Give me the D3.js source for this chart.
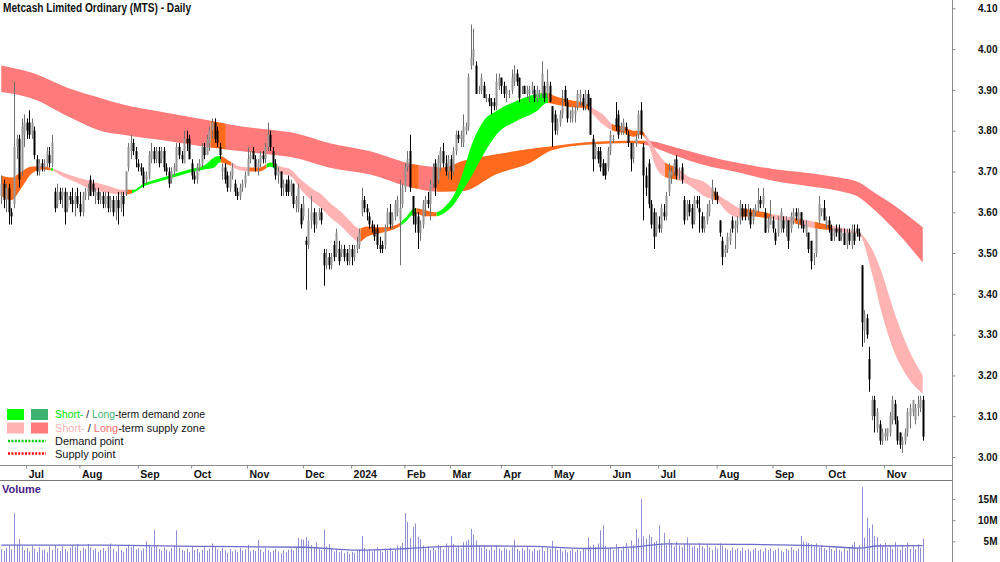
<!DOCTYPE html>
<html><head><meta charset="utf-8">
<script src="https://cdn.jsdelivr.net/npm/d3@7"></script>
<style>
body{margin:0;background:#fff}
svg{display:block}
text{font-family:"Liberation Sans",Arial,sans-serif}
</style>
</head><body>
<svg id="chart" width="1000" height="562"></svg>
<script>
// ---------------- DATA ----------------
const title = "Metcash Limited Ordinary (MTS) - Daily";
const firstDay = "2023-06-19", lastDay = "2024-11-22";
const closedDays = ["2023-12-25","2023-12-26","2024-01-01","2024-01-26","2024-02-26","2024-02-27","2024-02-28","2024-03-29","2024-04-01","2024-04-25","2024-06-10"];

const opens = [
3.64,3.67,3.63,3.66,3.60,3.62,3.76,3.78,3.70,3.79, 3.82,3.82,3.79,3.80,3.73,3.70,3.72,3.71,3.72,3.74,
3.72,3.65,3.62,3.65,3.64,3.65,3.61,3.64,3.63,3.62, 3.64,3.62,3.60,3.64,3.65,3.68,3.67,3.64,3.65,3.63,
3.64,3.62,3.64,3.61,3.63,3.60,3.63,3.61,3.64,3.65, 3.71,3.75,3.77,3.75,3.72,3.71,3.70,3.68,3.69,3.73,
3.75,3.73,3.75,3.73,3.75,3.71,3.70,3.68,3.70,3.70, 3.76,3.74,3.72,3.78,3.78,3.72,3.69,3.68,3.71,3.72,
3.76,3.74,3.77,3.80,3.82,3.80,3.76,3.70,3.71,3.69, 3.66,3.69,3.67,3.65,3.64,3.66,3.67,3.69,3.73,3.75,
3.73,3.71,3.72,3.74,3.73,3.76,3.79,3.75,3.72,3.69, 3.70,3.66,3.67,3.68,3.65,3.67,3.62,3.61,3.61,3.59,
3.53,3.52,3.58,3.60,3.57,3.59,3.60,3.50,3.47,3.49, 3.47,3.52,3.50,3.51,3.50,3.51,3.50,3.48,3.51,3.49,
3.51,3.52,3.60,3.63,3.61,3.59,3.57,3.56,3.56,3.52, 3.52,3.52,3.57,3.60,3.57,3.59,3.60,3.58,3.62,3.66,
3.71,3.75,3.64,3.60,3.59,3.55,3.57,3.62,3.63,3.62, 3.67,3.72,3.68,3.72,3.75,3.72,3.70,3.73,3.70,3.75,
3.79,3.78,3.77,3.80,3.81,3.96,3.98,3.96,3.90,3.90, 3.91,3.88,3.88,3.87,3.87,3.86,3.91,3.93,3.91,3.89,
3.89,3.90,3.92,3.94,3.93,3.90,3.91,3.89,3.89,3.90, 3.90,3.88,3.89,3.89,3.91,3.89,3.91,3.86,3.84,3.80,
3.82,3.84,3.90,3.87,3.84,3.83,3.84,3.86,3.88,3.88, 3.86,3.89,3.88,3.78,3.74,3.75,3.75,3.72,3.72,3.71,
3.75,3.78,3.83,3.84,3.80,3.80,3.81,3.79,3.77,3.73, 3.77,3.79,3.85,3.76,3.69,3.72,3.62,3.60,3.55,3.57,
3.56,3.60,3.59,3.65,3.69,3.70,3.73,3.70,3.71,3.63, 3.59,3.62,3.61,3.58,3.63,3.61,3.59,3.56,3.58,3.60,
3.63,3.65,3.64,3.58,3.53,3.50,3.51,3.53,3.58,3.56, 3.57,3.58,3.61,3.61,3.59,3.60,3.58,3.60,3.61,3.63,
3.62,3.60,3.56,3.57,3.58,3.55,3.55,3.56,3.58,3.57, 3.58,3.56,3.58,3.60,3.58,3.60,3.57,3.55,3.55,3.53,
3.49,3.50,3.58,3.60,3.61,3.57,3.58,3.56,3.54,3.56, 3.56,3.54,3.55,3.52,3.55,3.52,3.55,3.56,3.55,3.47,
3.31,3.34,3.24,3.10,3.14,3.07,3.08,3.04,3.05,3.05, 3.06,3.09,3.13,3.09,3.06,3.03,3.04,3.06,3.10,3.11,
3.09,3.12,3.12,3.14];

const highs = [
3.69,3.68,3.67,3.67,3.61,3.92,3.79,3.79,3.83,3.84, 3.83,3.85,3.83,3.81,3.74,3.73,3.73,3.73,3.76,3.76,
3.79,3.66,3.67,3.66,3.66,3.66,3.65,3.65,3.66,3.65, 3.66,3.65,3.65,3.66,3.67,3.69,3.68,3.66,3.66,3.65,
3.65,3.65,3.65,3.64,3.64,3.64,3.65,3.65,3.65,3.70, 3.77,3.79,3.78,3.76,3.73,3.72,3.71,3.70,3.75,3.77,
3.76,3.76,3.76,3.76,3.76,3.72,3.71,3.71,3.72,3.77, 3.77,3.75,3.80,3.80,3.79,3.73,3.70,3.72,3.73,3.77,
3.77,3.79,3.81,3.83,3.83,3.81,3.77,3.72,3.72,3.70, 3.70,3.72,3.68,3.66,3.67,3.68,3.70,3.76,3.75,3.76,
3.74,3.73,3.75,3.75,3.77,3.82,3.80,3.76,3.73,3.71, 3.70,3.68,3.68,3.69,3.68,3.67,3.64,3.67,3.62,3.64,
3.54,3.61,3.64,3.61,3.60,3.61,3.61,3.51,3.51,3.50, 3.50,3.53,3.56,3.53,3.52,3.52,3.51,3.52,3.52,3.52,
3.54,3.56,3.66,3.64,3.62,3.60,3.58,3.57,3.57,3.54, 3.53,3.57,3.61,3.62,3.60,3.63,3.64,3.68,3.67,3.72,
3.75,3.79,3.64,3.61,3.60,3.58,3.63,3.64,3.65,3.68, 3.72,3.73,3.74,3.76,3.77,3.74,3.74,3.74,3.76,3.80,
3.80,3.80,3.84,3.82,3.94,4.06,4.05,3.97,3.91,3.94, 3.92,3.89,3.89,3.88,3.88,3.94,3.94,3.93,3.92,3.91,
3.90,3.95,3.96,3.95,3.93,3.91,3.91,3.91,3.91,3.92, 3.91,3.91,3.90,3.97,3.92,3.95,3.92,3.86,3.85,3.83,
3.85,3.90,3.91,3.88,3.85,3.86,3.86,3.90,3.90,3.89, 3.90,3.90,3.88,3.79,3.77,3.76,3.76,3.73,3.72,3.76,
3.80,3.79,3.87,3.85,3.82,3.83,3.82,3.80,3.77,3.77, 3.79,3.85,3.87,3.77,3.71,3.73,3.63,3.61,3.60,3.59,
3.62,3.62,3.65,3.72,3.71,3.73,3.74,3.71,3.72,3.64, 3.63,3.63,3.62,3.64,3.64,3.64,3.60,3.59,3.62,3.63,
3.68,3.66,3.65,3.58,3.54,3.52,3.55,3.56,3.59,3.58, 3.59,3.63,3.62,3.62,3.62,3.61,3.61,3.62,3.66,3.64,
3.66,3.61,3.59,3.63,3.59,3.56,3.59,3.61,3.59,3.59, 3.58,3.60,3.61,3.61,3.61,3.60,3.58,3.58,3.55,3.53,
3.50,3.56,3.64,3.61,3.63,3.59,3.59,3.57,3.56,3.57, 3.57,3.56,3.56,3.56,3.56,3.57,3.57,3.57,3.56,3.47,
3.36,3.35,3.27,3.15,3.15,3.12,3.09,3.07,3.07,3.07, 3.11,3.15,3.14,3.10,3.06,3.05,3.07,3.12,3.13,3.14,
3.13,3.15,3.15,3.15];

const lows = [
3.62,3.61,3.60,3.57,3.57,3.61,3.73,3.66,3.69,3.76, 3.78,3.78,3.78,3.73,3.69,3.69,3.70,3.70,3.71,3.71,
3.71,3.60,3.61,3.62,3.61,3.57,3.60,3.62,3.60,3.59, 3.61,3.59,3.59,3.63,3.63,3.64,3.64,3.62,3.62,3.62,
3.61,3.61,3.60,3.60,3.59,3.58,3.57,3.60,3.59,3.64, 3.70,3.73,3.74,3.71,3.70,3.69,3.66,3.67,3.68,3.72,
3.72,3.72,3.71,3.72,3.70,3.69,3.66,3.67,3.69,3.70, 3.73,3.72,3.72,3.75,3.73,3.68,3.67,3.67,3.70,3.71,
3.73,3.74,3.75,3.78,3.77,3.76,3.73,3.68,3.67,3.65, 3.65,3.68,3.64,3.63,3.63,3.65,3.66,3.69,3.72,3.73,
3.70,3.69,3.71,3.72,3.72,3.75,3.75,3.71,3.68,3.67, 3.64,3.64,3.64,3.64,3.64,3.61,3.60,3.60,3.56,3.58,
3.41,3.51,3.56,3.55,3.56,3.58,3.57,3.42,3.46,3.46, 3.46,3.48,3.49,3.47,3.49,3.48,3.47,3.47,3.47,3.48,
3.50,3.51,3.59,3.60,3.58,3.56,3.55,3.53,3.51,3.50, 3.50,3.51,3.56,3.56,3.56,3.58,3.59,3.47,3.61,3.65,
3.70,3.65,3.57,3.55,3.51,3.53,3.56,3.59,3.61,3.58, 3.66,3.64,3.67,3.70,3.71,3.69,3.68,3.68,3.69,3.74,
3.77,3.76,3.76,3.79,3.80,3.95,3.96,3.89,3.89,3.89, 3.88,3.87,3.86,3.84,3.85,3.85,3.90,3.89,3.88,3.87,
3.88,3.89,3.91,3.91,3.87,3.89,3.89,3.88,3.87,3.89, 3.87,3.87,3.88,3.88,3.87,3.88,3.87,3.76,3.79,3.79,
3.81,3.83,3.86,3.82,3.82,3.82,3.82,3.85,3.86,3.85, 3.85,3.85,3.79,3.70,3.73,3.72,3.70,3.69,3.68,3.70,
3.74,3.77,3.80,3.78,3.79,3.79,3.79,3.76,3.70,3.72, 3.76,3.78,3.78,3.58,3.64,3.61,3.56,3.51,3.54,3.55,
3.55,3.58,3.58,3.64,3.67,3.69,3.68,3.68,3.67,3.57, 3.58,3.59,3.56,3.57,3.61,3.55,3.55,3.55,3.57,3.59,
3.62,3.63,3.62,3.54,3.47,3.49,3.50,3.52,3.55,3.51, 3.55,3.57,3.58,3.58,3.58,3.56,3.57,3.59,3.60,3.61,
3.61,3.55,3.55,3.57,3.55,3.52,3.54,3.55,3.55,3.54, 3.51,3.55,3.57,3.58,3.56,3.56,3.55,3.54,3.50,3.46,
3.47,3.49,3.57,3.59,3.58,3.56,3.55,3.53,3.53,3.54, 3.53,3.53,3.52,3.51,3.52,3.51,3.52,3.54,3.53,3.27,
3.28,3.29,3.16,3.09,3.06,3.06,3.03,3.03,3.04,3.04, 3.05,3.08,3.08,3.03,3.02,3.01,3.03,3.05,3.07,3.10,
3.08,3.10,3.11,3.04];

const closes = [
3.67,3.63,3.66,3.60,3.59,3.76,3.78,3.68,3.81,3.82, 3.80,3.79,3.82,3.74,3.70,3.72,3.71,3.72,3.75,3.72,
3.77,3.61,3.65,3.63,3.65,3.60,3.64,3.63,3.62,3.64, 3.62,3.60,3.64,3.65,3.66,3.64,3.65,3.65,3.63,3.64,
3.62,3.64,3.61,3.63,3.60,3.63,3.61,3.64,3.62,3.70, 3.76,3.77,3.75,3.73,3.71,3.70,3.67,3.69,3.74,3.75,
3.73,3.75,3.72,3.75,3.71,3.70,3.67,3.70,3.71,3.76, 3.74,3.73,3.78,3.77,3.73,3.69,3.68,3.71,3.72,3.76,
3.74,3.78,3.80,3.82,3.78,3.77,3.74,3.71,3.68,3.66, 3.69,3.71,3.65,3.64,3.66,3.67,3.69,3.73,3.74,3.73,
3.71,3.72,3.74,3.73,3.76,3.79,3.76,3.72,3.69,3.70, 3.66,3.67,3.65,3.65,3.67,3.62,3.63,3.66,3.57,3.62,
3.52,3.58,3.60,3.57,3.59,3.60,3.58,3.47,3.49,3.47, 3.49,3.49,3.55,3.48,3.51,3.49,3.48,3.51,3.49,3.51,
3.52,3.55,3.63,3.61,3.60,3.57,3.56,3.54,3.52,3.51, 3.51,3.56,3.60,3.57,3.59,3.62,3.63,3.61,3.66,3.71,
3.73,3.66,3.59,3.57,3.55,3.57,3.62,3.63,3.62,3.67, 3.71,3.66,3.73,3.75,3.72,3.70,3.73,3.70,3.75,3.79,
3.78,3.79,3.81,3.81,3.93,3.98,4.00,3.89,3.90,3.93, 3.88,3.88,3.87,3.86,3.86,3.92,3.93,3.91,3.89,3.90,
3.89,3.93,3.94,3.92,3.88,3.90,3.89,3.90,3.90,3.91, 3.88,3.90,3.89,3.94,3.88,3.92,3.87,3.82,3.80,3.82,
3.84,3.86,3.87,3.83,3.84,3.85,3.85,3.89,3.89,3.86, 3.89,3.86,3.79,3.73,3.76,3.73,3.71,3.69,3.69,3.75,
3.79,3.78,3.81,3.79,3.81,3.82,3.80,3.77,3.73,3.76, 3.78,3.84,3.79,3.69,3.66,3.62,3.57,3.54,3.59,3.56,
3.61,3.59,3.64,3.70,3.70,3.72,3.69,3.70,3.68,3.58, 3.62,3.60,3.57,3.63,3.62,3.60,3.56,3.58,3.60,3.62,
3.66,3.64,3.63,3.55,3.49,3.51,3.54,3.55,3.56,3.57, 3.58,3.62,3.59,3.59,3.60,3.57,3.60,3.61,3.63,3.62,
3.64,3.55,3.58,3.59,3.56,3.53,3.58,3.60,3.56,3.58, 3.53,3.59,3.60,3.59,3.60,3.57,3.56,3.57,3.51,3.48,
3.49,3.56,3.62,3.61,3.58,3.58,3.56,3.53,3.56,3.55, 3.53,3.55,3.52,3.55,3.53,3.56,3.53,3.55,3.54,3.33,
3.35,3.30,3.19,3.14,3.10,3.11,3.04,3.06,3.06,3.07, 3.10,3.14,3.09,3.04,3.03,3.04,3.06,3.11,3.12,3.14,
3.12,3.13,3.14,3.05];

// volume in millions of shares
const volumes = [
3.2,2.8,3.5,4.0,3.1,11.7,4.2,5.5,3.8,2.9, 3.4,2.6,3.9,3.3,2.5,3.6,2.9,3.1,2.4,3.8,
3.0,4.1,3.3,2.7,3.9,3.2,2.6,3.5,4.0,3.7, 4.3,2.8,3.5,3.1,4.4,3.6,2.9,3.3,2.5,3.0,
3.4,2.7,3.8,4.5,3.2,2.6,3.9,3.0,2.4,3.5, 4.2,3.6,4.0,3.1,3.4,2.8,3.3,5.0,4.2,3.6,
7.7,3.9,3.2,2.8,3.6,3.0,2.6,3.4,4.1,7.6, 3.5,3.0,2.7,3.3,2.5,3.8,2.9,3.2,2.4,3.0,
3.6,2.8,3.3,4.5,3.9,3.1,2.7,3.5,2.9,2.3, 3.2,2.6,3.0,2.5,3.4,2.8,3.1,4.2,2.6,3.0,
2.7,5.3,3.1,2.5,3.4,2.9,2.4,2.8,3.2,2.6, 2.2,2.9,2.5,3.0,3.3,2.8,3.6,5.8,5.5,5.4,
6.0,5.2,4.1,3.5,4.8,3.2,2.9,7.7,3.8,4.4, 3.3,2.6,3.0,2.4,2.8,2.2,2.6,2.0,2.5,2.3,
2.7,3.1,6.3,3.4,2.8,3.2,2.6,3.0,3.6,2.9, 2.5,3.3,2.8,3.5,2.7,3.1,4.0,3.8,4.6,11.7,
9.6,5.8,8.4,9.2,6.1,5.5,4.0,3.3,3.8,3.0, 3.5,2.9,4.2,3.6,3.1,4.5,3.8,6.2,4.4,3.5,
3.9,3.3,4.8,5.0,5.4,7.9,6.6,5.2,4.0,3.5, 3.8,3.2,2.9,3.6,3.0,4.1,3.3,2.8,3.5,3.1,
2.9,3.6,5.4,3.2,2.7,3.4,2.9,3.8,3.1,2.6, 3.3,2.8,3.0,3.9,2.7,3.4,3.2,5.1,3.5,2.9,
3.3,2.6,3.0,2.4,2.8,3.2,2.5,3.0,2.7,3.4, 3.1,5.9,3.8,4.2,3.6,4.5,7.6,8.8,3.9,3.2,
3.6,3.0,4.4,3.5,2.9,3.8,4.6,3.3,5.2,4.0, 7.9,5.8,15.0,6.2,5.6,6.5,6.0,4.8,5.1,8.8,
4.5,7.0,4.2,5.5,4.6,3.8,4.9,4.1,3.6,4.4, 5.9,4.3,3.7,4.0,3.4,4.6,3.9,3.3,4.2,3.6,
3.0,3.8,3.2,4.5,4.0,3.4,3.1,2.8,3.6,3.0, 3.3,2.7,3.5,2.9,3.2,2.6,3.0,3.4,2.8,3.1,
2.6,3.5,2.9,3.3,2.7,3.0,3.4,2.8,2.5,3.2, 2.9,3.6,3.0,2.7,3.3,6.3,5.0,4.8,4.6,4.3,
3.8,4.5,3.6,4.1,3.4,3.0,3.7,3.2,2.8,3.5, 3.0,2.6,3.3,2.9,3.6,4.2,4.9,3.5,4.0,17.8,
5.9,10.6,8.2,9.0,6.3,6.0,4.4,3.8,4.6,3.5, 4.0,3.2,4.8,3.6,3.0,4.1,3.4,4.7,3.2,3.9,
3.1,4.3,3.5,5.6];

const volAvgIdx = [0,40,80,100,120,140,160,175,190,210,230,250,262,290,320,338,345,363];
const volAvg    = [4.1,4.1,3.8,3.7,3.6,2.9,3.3,3.8,3.9,3.8,3.3,3.7,4.4,4.3,4.0,3.4,3.9,4.0];

// short-term (fast) moving-average band
const shortIdx = [0,4,8,12,16,20,24,30,36,42,48,52,56,62,68,74,80,84,86,90,94,98,102,106,110,114,118,122,126,130,134,138,141,144,150,156,159,163,167,171,175,179,182,185,190,195,203,211,215,218,224,230,233,237,241,245,249,252,255,258,262,266,270,278,282,286,291,295,304,311,318,325,333,338,343,347,351,357,363];
const shortTop = [3.69,3.685,3.70,3.712,3.712,3.708,3.698,3.685,3.675,3.665,3.655,3.655,3.67,3.682,3.694,3.705,3.715,3.735,3.738,3.725,3.712,3.71,3.71,3.722,3.712,3.705,3.68,3.66,3.644,3.62,3.60,3.575,3.56,3.565,3.563,3.57,3.585,3.61,3.605,3.60,3.615,3.65,3.70,3.76,3.824,3.848,3.873,3.89,3.893,3.885,3.875,3.868,3.855,3.84,3.815,3.81,3.80,3.80,3.78,3.75,3.72,3.71,3.69,3.67,3.645,3.628,3.61,3.607,3.595,3.588,3.58,3.57,3.559,3.55,3.51,3.45,3.37,3.27,3.20];
const shortBot = [3.64,3.63,3.66,3.695,3.705,3.702,3.688,3.672,3.655,3.648,3.643,3.648,3.663,3.675,3.686,3.697,3.705,3.71,3.722,3.715,3.703,3.70,3.70,3.712,3.695,3.688,3.655,3.63,3.61,3.585,3.565,3.54,3.527,3.54,3.55,3.562,3.575,3.597,3.59,3.59,3.60,3.625,3.655,3.685,3.742,3.79,3.824,3.848,3.868,3.865,3.858,3.855,3.84,3.815,3.80,3.795,3.785,3.79,3.765,3.71,3.685,3.68,3.67,3.636,3.628,3.60,3.587,3.59,3.583,3.575,3.563,3.557,3.55,3.545,3.45,3.35,3.27,3.196,3.155];
// zone state per stretch of bars: D = demand, S = supply, N = neutral
const shortZones = [[0,20,"N"],[20,21,"D"],[21,50,"S"],[50,52,"N"],[52,87,"D"],[87,91,"N"],[91,98,"S"],[98,105,"N"],[105,109,"D"],[109,142,"S"],[142,158,"N"],[158,164,"D"],[164,172,"N"],[172,216,"D"],[216,232,"N"],[232,241,"S"],[241,254,"N"],[254,262,"S"],[262,267,"N"],[267,281,"S"],[281,283,"N"],[283,292,"S"],[292,304,"N"],[304,313,"S"],[313,316,"N"],[316,321,"S"],[321,328,"N"],[328,364,"S"]];

// long-term (slow) moving-average band
const longIdx = [0,13,26,39,48,65,83,94,105,115,129,145,162,174,182,195,208,217,232,248,254,265,278,291,304,317,330,338,343,351,363];
const longTop = [3.96,3.94,3.905,3.88,3.864,3.844,3.824,3.811,3.803,3.795,3.77,3.75,3.718,3.71,3.726,3.742,3.755,3.762,3.772,3.775,3.775,3.76,3.738,3.72,3.706,3.697,3.685,3.673,3.652,3.62,3.563];
const longBot = [3.895,3.877,3.836,3.80,3.79,3.775,3.758,3.75,3.742,3.734,3.71,3.693,3.66,3.65,3.652,3.693,3.72,3.752,3.766,3.77,3.765,3.74,3.714,3.697,3.677,3.665,3.652,3.636,3.611,3.563,3.477];
const longZones = [[0,83,"S"],[83,89,"N"],[89,162,"S"],[162,165,"N"],[165,172,"S"],[172,254,"N"],[254,364,"S"]];

const priceTicks = [3.00,3.10,3.20,3.30,3.40,3.50,3.60,3.70,3.80,3.90,4.00,4.10];
const volumeTicks = [5,10,15];

// ---------------- DRAW ----------------
const svg = d3.select("#chart");
const W = 1000, H = 562, axisX = 952;
const pTop = 0, pBot = 465, vTop = 480, vBot = 562;
const FONT = '"Liberation Sans", Arial, sans-serif';

const skip = new Set(closedDays);
const fmtDay = d3.utcFormat("%Y-%m-%d");
const allDays = d3.utcDay.range(new Date(firstDay + "T00:00:00Z"), d3.utcDay.offset(new Date(lastDay + "T00:00:00Z"), 1))
  .filter(d => d.getUTCDay() !== 0 && d.getUTCDay() !== 6 && !skip.has(fmtDay(d)));
const N = Math.min(opens.length, highs.length, lows.length, closes.length, volumes.length, allDays.length);
const dates = allDays.slice(0, N);

const bars = d3.range(N).map(i => ({
  i, date: dates[i], o: opens[i], c: closes[i],
  h: Math.max(highs[i], opens[i], closes[i]), l: Math.min(lows[i], opens[i], closes[i]), v: volumes[i]
}));

const x = d3.scaleBand().domain(d3.range(N)).range([0, 924]).padding(0);
const cx = i => x(i) + x.bandwidth() / 2;
const xi = d3.scaleLinear().domain([0, N - 1]).range([cx(0), cx(N - 1)]);
const y = d3.scaleLinear().domain([3.00, 4.10]).range([457, 8.3]);
const yv = d3.scaleLinear().domain([0, 19]).range([562.5, 482]);

svg.append("rect").attr("width", W).attr("height", H).attr("fill", "#fff");

const defs = svg.append("defs");
defs.append("clipPath").attr("id", "priceClip").append("rect")
  .attr("x", 0).attr("y", pTop).attr("width", axisX).attr("height", pBot - pTop);

const gPrice = svg.append("g").attr("clip-path", "url(#priceClip)");

const colors = {
  shortS: "#FFB3B3", longS: "#FF7A7A", shortD: "#00FF00", longD: "#3CB371", N: "#FF6A1C"
};

function drawBand(idx, top, bot, zones, kind) {
  const pts = idx.map((k, j) => ({ i: k, t: top[j], b: bot[j] }));
  const area = d3.area().x(d => xi(d.i)).y0(d => y(d.b)).y1(d => y(d.t)).curve(d3.curveMonotoneX);
  zones.forEach((z, zi) => {
    const id = kind + "Zone" + zi;
    const x0 = z[0] === 0 ? 0 : x(z[0]);
    const x1 = z[1] >= N ? axisX : x(z[1]);
    defs.append("clipPath").attr("id", id).append("rect")
      .attr("x", x0).attr("y", 0).attr("width", Math.max(0, x1 - x0)).attr("height", pBot);
    const col = z[2] === "N" ? colors.N : colors[kind + z[2]];
    gPrice.append("path").attr("d", area(pts)).attr("fill", col).attr("clip-path", `url(#${id})`);
  });
}
drawBand(longIdx, longTop, longBot, longZones, "long");
drawBand(shortIdx, shortTop, shortBot, shortZones, "short");

// candles
const cg = gPrice.append("g");
cg.selectAll("line.wick").data(bars).join("line")
  .attr("x1", d => Math.round(cx(d.i)) + 0.5).attr("x2", d => Math.round(cx(d.i)) + 0.5)
  .attr("y1", d => y(d.h)).attr("y2", d => y(d.l))
  .attr("stroke", d => d.c >= d.o ? "#6f6f6f" : "#000").attr("stroke-width", 1);
cg.selectAll("rect.body").data(bars).join("rect")
  .attr("x", d => Math.round(cx(d.i)) - 0.5).attr("width", 2)
  .attr("y", d => y(Math.max(d.o, d.c)))
  .attr("height", d => Math.max(1, Math.abs(y(d.o) - y(d.c))))
  .attr("fill", d => d.c >= d.o ? "#959595" : "#000");

// frame lines
const frame = "#8c8c8c";
svg.append("line").attr("x1", axisX + 0.5).attr("x2", axisX + 0.5).attr("y1", 0).attr("y2", H).attr("stroke", frame);
svg.append("line").attr("x1", 0).attr("x2", axisX).attr("y1", pBot + 0.5).attr("y2", pBot + 0.5).attr("stroke", frame);
svg.append("line").attr("x1", 0).attr("x2", axisX).attr("y1", vTop + 0.5).attr("y2", vTop + 0.5).attr("stroke", "#777");

// price axis
const yAxis = d3.axisRight(y).tickValues(priceTicks).tickSize(3).tickPadding(0).tickFormat(d3.format(".2f"));
const ga = svg.append("g").attr("transform", `translate(${axisX + 0.5},0)`).call(yAxis);
ga.select(".domain").remove();
ga.selectAll(".tick line").attr("stroke", frame);
ga.selectAll(".tick text").attr("x", 997 - axisX).attr("text-anchor", "end")
  .attr("font-size", 10).attr("font-weight", "bold").attr("fill", "#111").style("font-family", FONT);

// month axis
const monthStarts = bars.filter((d, k) => k > 0 && d.date.getUTCMonth() !== bars[k - 1].date.getUTCMonth()).map(d => d.i);
const fmtMonth = d3.utcFormat("%b");
const xAxis = d3.axisBottom(x).tickValues(monthStarts).tickSize(3).tickPadding(0)
  .tickFormat(i => dates[i].getUTCMonth() === 0 ? String(dates[i].getUTCFullYear()) : fmtMonth(dates[i]));
const gx = svg.append("g").attr("transform", `translate(0,${pBot + 0.5})`).call(xAxis);
gx.select(".domain").remove();
gx.selectAll(".tick line").attr("stroke", frame);
gx.selectAll(".tick text").attr("text-anchor", "start").attr("x", 2).attr("y", 12).attr("dy", 0)
  .attr("font-size", 10.5).attr("font-weight", "bold").attr("fill", "#111").style("font-family", FONT);

// volume
const gv = svg.append("g");
gv.selectAll("rect").data(bars).join("rect")
  .attr("x", d => Math.round(cx(d.i))).attr("width", 1)
  .attr("y", d => yv(d.v)).attr("height", d => yv(0) - yv(d.v))
  .attr("fill", "#8f8fd6");
const vpts = volAvgIdx.map((k, j) => ({ i: k, v: volAvg[j] }));
gv.append("path").attr("d", d3.line().x(d => xi(d.i)).y(d => yv(d.v)).curve(d3.curveMonotoneX)(vpts))
  .attr("fill", "none").attr("stroke", "#6b6bc8").attr("stroke-width", 1.3);

const vAxis = d3.axisRight(yv).tickValues(volumeTicks).tickSize(3).tickPadding(0).tickFormat(d => d + "M");
const gva = svg.append("g").attr("transform", `translate(${axisX + 0.5},0)`).call(vAxis);
gva.select(".domain").remove();
gva.selectAll(".tick line").attr("stroke", frame);
gva.selectAll(".tick text").attr("x", 997 - axisX).attr("text-anchor", "end")
  .attr("font-size", 10).attr("font-weight", "bold").attr("fill", "#111").style("font-family", FONT);

svg.append("text").attr("x", 2).attr("y", 493).text("Volume")
  .attr("font-size", 11).attr("font-weight", "bold").attr("fill", "#4b1a8a");

// title
svg.append("text").attr("x", 3).attr("y", 12).text(title)
  .attr("font-size", 12).attr("font-weight", "bold").attr("fill", "#111")
  .attr("textLength", 188).attr("lengthAdjust", "spacingAndGlyphs");

// legend
const lg = svg.append("g").attr("font-size", 11).attr("fill", "#111");
const rows = [
  { c1: colors.shortD, c2: colors.longD, t1: "#00E600", t2: "#3CB371", rest: "-term demand zone" },
  { c1: colors.shortS, c2: colors.longS, t1: "#FFB3B3", t2: "#FF6E6E", rest: "-term supply zone" }
];
rows.forEach((r, k) => {
  const cy = 414 + k * 13.5;
  lg.append("rect").attr("x", 7).attr("y", cy - 5).attr("width", 17).attr("height", 11).attr("fill", r.c1);
  lg.append("rect").attr("x", 31).attr("y", cy - 5).attr("width", 17).attr("height", 11).attr("fill", r.c2);
  const t = lg.append("text").attr("x", 55).attr("y", cy + 4).attr("textLength", 150).attr("lengthAdjust", "spacingAndGlyphs");
  t.append("tspan").attr("fill", r.t1).text("Short-");
  t.append("tspan").attr("fill", "#111").text(" / ");
  t.append("tspan").attr("fill", r.t2).text("Long");
  t.append("tspan").attr("fill", "#111").text(r.rest);
});
[["#00CC00", "Demand point"], ["#FF0000", "Supply point"]].forEach((r, k) => {
  const cy = 441 + k * 12.5;
  lg.append("line").attr("x1", 8).attr("x2", 46).attr("y1", cy).attr("y2", cy)
    .attr("stroke", r[0]).attr("stroke-width", 2.5).attr("stroke-dasharray", "2,1.4");
  lg.append("text").attr("x", 55).attr("y", cy + 4).text(r[1]);
});
</script>
</body></html>
